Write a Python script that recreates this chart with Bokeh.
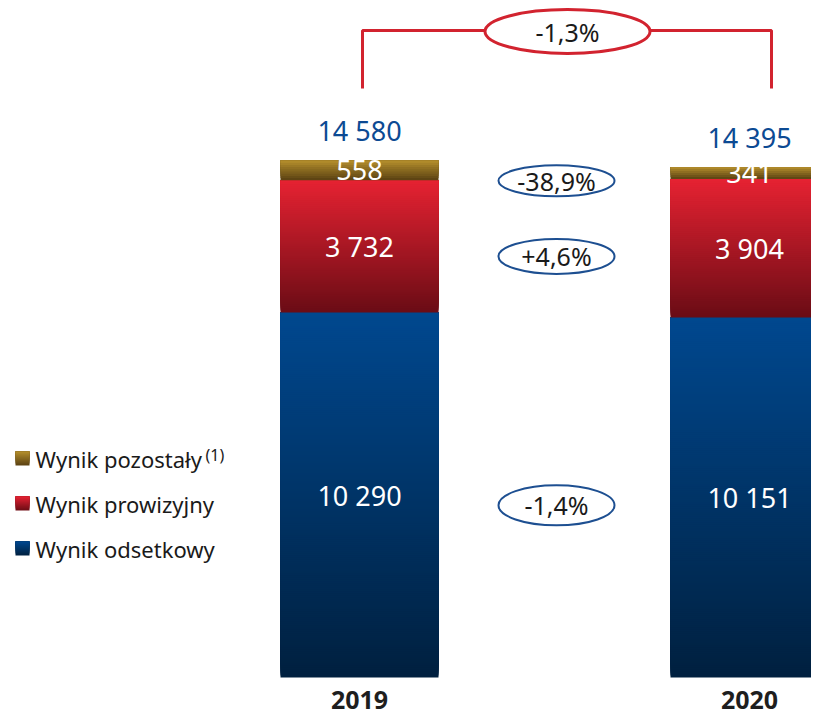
import numpy as np
from bokeh.plotting import figure
from bokeh.models import Range1d, ColumnDataSource
from bokeh.core.properties import value
from bokeh.embed import file_html
from bokeh.resources import INLINE

# ---------------- data ----------------
years = ["2019", "2020"]
wynik_odsetkowy = [10290, 10151]
wynik_prowizyjny = [3732, 3904]
wynik_pozostaly = [558, 341]
totals = [14580, 14395]
change_labels = ["-38,9%", "+4,6%", "-1,4%"]   # pozostały, prowizyjny, odsetkowy
total_change = "-1,3%"
legend_labels = ["Wynik pozostały", "Wynik prowizyjny", "Wynik odsetkowy"]
legend_note = "(1)"

# ---------------- layout / style ----------------
W, H = 811, 714
PX_X = 390.0                      # px per x unit
X0 = 359.0                        # px of first bar centre
K = 14580 / 517.0                 # data units per px (y)
ZERO_PX = 677.0                   # px from top of value 0
BAR_W = 158 / PX_X
FONT = value("Noto Sans")

def X(px_img):
    return (px_img - X0) / PX_X

def Y(py_img):
    return (ZERO_PX - py_img) * K

def fmt(v):
    return f"{v:,}".replace(",", " ")

def hex2rgb(h):
    h = h.lstrip("#")
    return np.array([int(h[i:i + 2], 16) for i in (0, 2, 4)], float)

def mix(c_bottom, c_top, t):
    c = hex2rgb(c_bottom) * (1 - t) + hex2rgb(c_top) * t
    return "#%02x%02x%02x" % tuple(int(round(v)) for v in c)

GRAD = {
    "blue": ("#00203f", "#00488f"),
    "red": ("#6a0c15", "#e62232"),
    "gold": ("#594012", "#b58f2c"),
}

p = figure(width=W, height=H, output_backend="svg", toolbar_location=None,
           x_axis_type=None, y_axis_type=None, min_border=0,
           x_range=Range1d(-X0 / PX_X, (W - X0) / PX_X),
           y_range=Range1d(-(H - ZERO_PX) * K, ZERO_PX * K))
p.grid.visible = False
p.outline_line_color = None
p.background_fill_color = "white"
p.border_fill_color = "white"

# ---------------- gradient bars ----------------
series = [(wynik_odsetkowy, "blue"), (wynik_prowizyjny, "red"), (wynik_pozostaly, "gold")]
q = dict(left=[], right=[], bottom=[], top=[], color=[])
lab = dict(x=[], y=[], text=[])
mids = []
for i in range(len(years)):
    base = 0.0
    mids_i = []
    for vals, cname in series:
        v = vals[i]
        b0, b1 = base, base + v
        n = max(4, int(v / K / 2))
        cb, ct = GRAD[cname]
        for j in range(n):
            # each slice reaches the segment top; later slices paint over -> no seams
            q["left"].append(i - BAR_W / 2)
            q["right"].append(i + BAR_W / 2)
            q["bottom"].append(b0 + (b1 - b0) * j / n)
            q["top"].append(b1)
            q["color"].append(mix(cb, ct, (j + 0.5) / n))
        lab["x"].append(i)
        lab["y"].append((b0 + b1) / 2)
        lab["text"].append(fmt(v))
        mids_i.append((b0 + b1) / 2)
        base = b1
    mids.append(mids_i)

p.quad(left="left", right="right", bottom="bottom", top="top", color="color",
       line_color=None, source=ColumnDataSource(q))
p.text(x="x", y="y", text="text", source=ColumnDataSource(lab), text_color="white",
       text_font=FONT, text_font_size="27px", text_align="center", text_baseline="middle")

# totals
p.text(x=list(range(len(years))), y=totals, text=[fmt(t) for t in totals],
       text_color="#0c4a93", text_font=FONT, text_font_size="27px",
       text_align="center", text_baseline="middle", y_offset=-30)

# year labels
p.text(x=list(range(len(years))), y=[0] * len(years), text=years,
       text_color="#1e1e1e", text_font=FONT, text_font_size="25px", text_font_style="bold",
       text_align="center", text_baseline="middle", y_offset=22)

# ---------------- change ellipses ----------------
avg_mid = [(mids[0][k] + mids[1][k]) / 2 for k in range(3)]
order = [2, 1, 0]  # pozostały, prowizyjny, odsetkowy
ey = [avg_mid[k] - 9 * K for k in order]
ex = [X(556)] * 3
p.ellipse(x=ex, y=ey, width=116, height=[31, 35, 40], width_units="screen",
          height_units="screen", fill_color="white", line_color="#1d4f91", line_width=2)
p.text(x=ex, y=ey, text=change_labels, text_color="#1a1a1a", text_font=FONT,
       text_font_size="25px", text_align="center", text_baseline="middle")

# ---------------- total change bracket ----------------
p.line(x=[X(362), X(362), X(771), X(771)], y=[Y(88), Y(30), Y(30), Y(88)],
       line_color="#d2232f", line_width=3)
p.ellipse(x=[X(567)], y=[Y(31)], width=165, height=44, width_units="screen",
          height_units="screen", fill_color="white", line_color="#d2232f", line_width=3)
p.text(x=[X(567)], y=[Y(31)], text=[total_change], text_color="#1a1a1a", text_font=FONT,
       text_font_size="25px", text_align="center", text_baseline="middle")

# ---------------- legend ----------------
leg_y = [458, 503, 548]
leg_col = ["gold", "red", "blue"]
lq = dict(left=[], right=[], bottom=[], top=[], color=[])
for yc, cname in zip(leg_y, leg_col):
    cb, ct = GRAD[cname]
    n = 7
    for j in range(n):
        lq["left"].append(X(15))
        lq["right"].append(X(29))
        lq["bottom"].append(Y(yc + 7) + 14 * K * j / n)
        lq["top"].append(Y(yc - 7))
        lq["color"].append(mix(cb, ct, (j + 0.5) / n))
p.quad(left="left", right="right", bottom="bottom", top="top", color="color",
       line_color=None, source=ColumnDataSource(lq))
p.text(x=[X(35)] * 3, y=[Y(v) for v in leg_y], text=legend_labels, text_color="#1a1a1a",
       text_font=FONT, text_font_size="22px", text_align="left", text_baseline="middle")
p.text(x=[X(205)], y=[Y(454)], text=[legend_note], text_color="#1a1a1a",
       text_font=FONT, text_font_size="16px", text_align="left", text_baseline="middle")

open("out.html", "w").write(file_html(p, INLINE))
